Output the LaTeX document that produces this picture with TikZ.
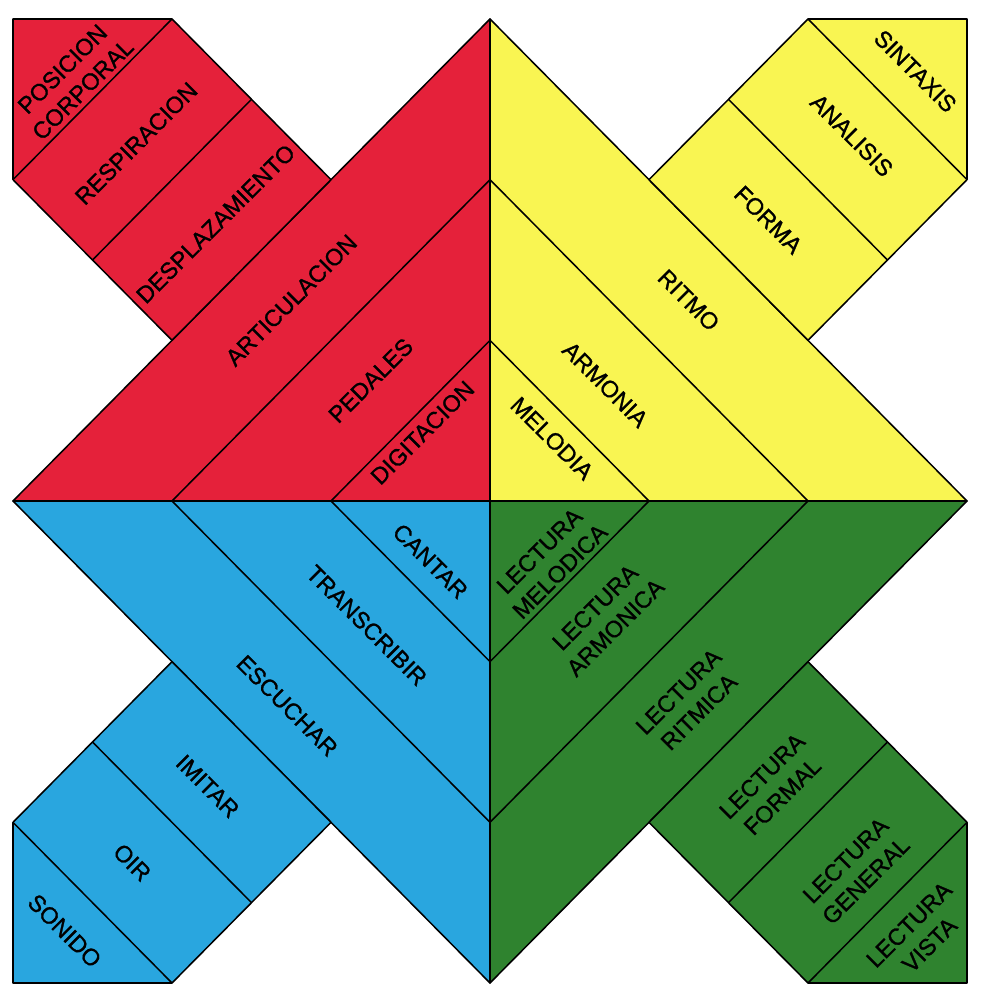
\documentclass[tikz,border=0pt]{standalone}
\usepackage{fontspec}
\setmainfont{Liberation Sans}[RawFeature={embolden=1.2}]
\definecolor{rojo}{RGB}{229,33,58}
\definecolor{amarillo}{RGB}{249,245,82}
\definecolor{azul}{RGB}{41,166,223}
\definecolor{verde}{RGB}{47,131,47}
\tikzset{
	pieza/.style={draw=black, line width=1.3pt, line join=round},
	etiqueta/.style={font=\fontsize{20}{24.5}\selectfont, align=center, inner sep=0pt},
}

\begin{document}
\begin{tikzpicture}[x=4.77cm, y=4.82cm]
	\useasboundingbox (-14.7cm,-14.79cm) rectangle (14.73cm,15.03cm);

	\path[pieza, fill=rojo]     (-3,0) -- (0,0) -- (0,3) -- cycle;
	\path[pieza, fill=rojo]     (-2,1) -- (-3,2) -- (-3,3) -- (-2,3) -- (-1,2) -- cycle;
	\path[pieza, fill=amarillo] (3,0) -- (0,0) -- (0,3) -- cycle;
	\path[pieza, fill=amarillo] (2,1) -- (3,2) -- (3,3) -- (2,3) -- (1,2) -- cycle;
	\path[pieza, fill=azul]     (-3,0) -- (0,0) -- (0,-3) -- cycle;
	\path[pieza, fill=azul]     (-2,-1) -- (-3,-2) -- (-3,-3) -- (-2,-3) -- (-1,-2) -- cycle;
	\path[pieza, fill=verde]    (3,0) -- (0,0) -- (0,-3) -- cycle;
	\path[pieza, fill=verde]    (2,-1) -- (3,-2) -- (3,-3) -- (2,-3) -- (1,-2) -- cycle;

	\path[pieza] (-2,0) -- (0,2) -- (2,0) -- (0,-2) -- cycle;
	\path[pieza] (-1,0) -- (0,1) -- (1,0) -- (0,-1) -- cycle;
	\path[pieza] (-2.5,1.5) -- (-1.5,2.5)  (-3,2) -- (-2,3);
	\path[pieza] (2.5,1.5) -- (1.5,2.5)  (3,2) -- (2,3);
	\path[pieza] (-2.5,-1.5) -- (-1.5,-2.5)  (-3,-2) -- (-2,-3);
	\path[pieza] (2.5,-1.5) -- (1.5,-2.5)  (3,-2) -- (2,-3);

	\node[etiqueta, rotate=45]  (articulacion)   at (-1.25,1.25)   {ARTICULACION};
	\node[etiqueta, rotate=45]  (pedales)        at (-0.75,0.75)   {PEDALES};
	\node[etiqueta, rotate=45]  (digitacion)     at (-0.425,0.425) {DIGITACION};
	\node[etiqueta, rotate=45]  (desplazamiento) at (-1.725,1.725) {DESPLAZAMIENTO};
	\node[etiqueta, rotate=45]  (respiracion)    at (-2.225,2.225) {RESPIRACION};
	\node[etiqueta, rotate=45]  (posicion)       at (-2.625,2.625) {POSICION\\CORPORAL};

	\node[etiqueta, rotate=-45] (ritmo)          at (1.25,1.25)    {RITMO};
	\node[etiqueta, rotate=-45] (armonia)        at (0.725,0.725)  {ARMONIA};
	\node[etiqueta, rotate=-45] (melodia)        at (0.39,0.39)    {MELODIA};
	\node[etiqueta, rotate=-45] (forma)          at (1.75,1.75)    {FORMA};
	\node[etiqueta, rotate=-45] (analisis)       at (2.275,2.275)  {ANALISIS};
	\node[etiqueta, rotate=-45] (sintaxis)       at (2.675,2.675)  {SINTAXIS};

	\node[etiqueta, rotate=-45] (escuchar)       at (-1.275,-1.275) {ESCUCHAR};
	\node[etiqueta, rotate=-45] (transcribir)    at (-0.775,-0.775) {TRANSCRIBIR};
	\node[etiqueta, rotate=-45] (cantar)         at (-0.375,-0.375) {CANTAR};
	\node[etiqueta, rotate=-45] (imitar)         at (-1.775,-1.775) {IMITAR};
	\node[etiqueta, rotate=-45] (oir)            at (-2.25,-2.25)   {OIR};
	\node[etiqueta, rotate=-45] (sonido)         at (-2.675,-2.675) {SONIDO};

	\node[etiqueta, rotate=45]  (lritmica)       at (1.25,-1.25)   {LECTURA\\RITMICA};
	\node[etiqueta, rotate=45]  (larmonica)      at (0.725,-0.725) {LECTURA\\ARMONICA};
	\node[etiqueta, rotate=45]  (lmelodica)      at (0.375,-0.375) {LECTURA\\MELODICA};
	\node[etiqueta, rotate=45]  (lformal)        at (1.775,-1.775) {LECTURA\\FORMAL};
	\node[etiqueta, rotate=45]  (lgeneral)       at (2.3,-2.3)     {LECTURA\\GENERAL};
	\node[etiqueta, rotate=45]  (lvista)         at (2.7,-2.7)     {LECTURA\\VISTA};
\end{tikzpicture}
\end{document}
